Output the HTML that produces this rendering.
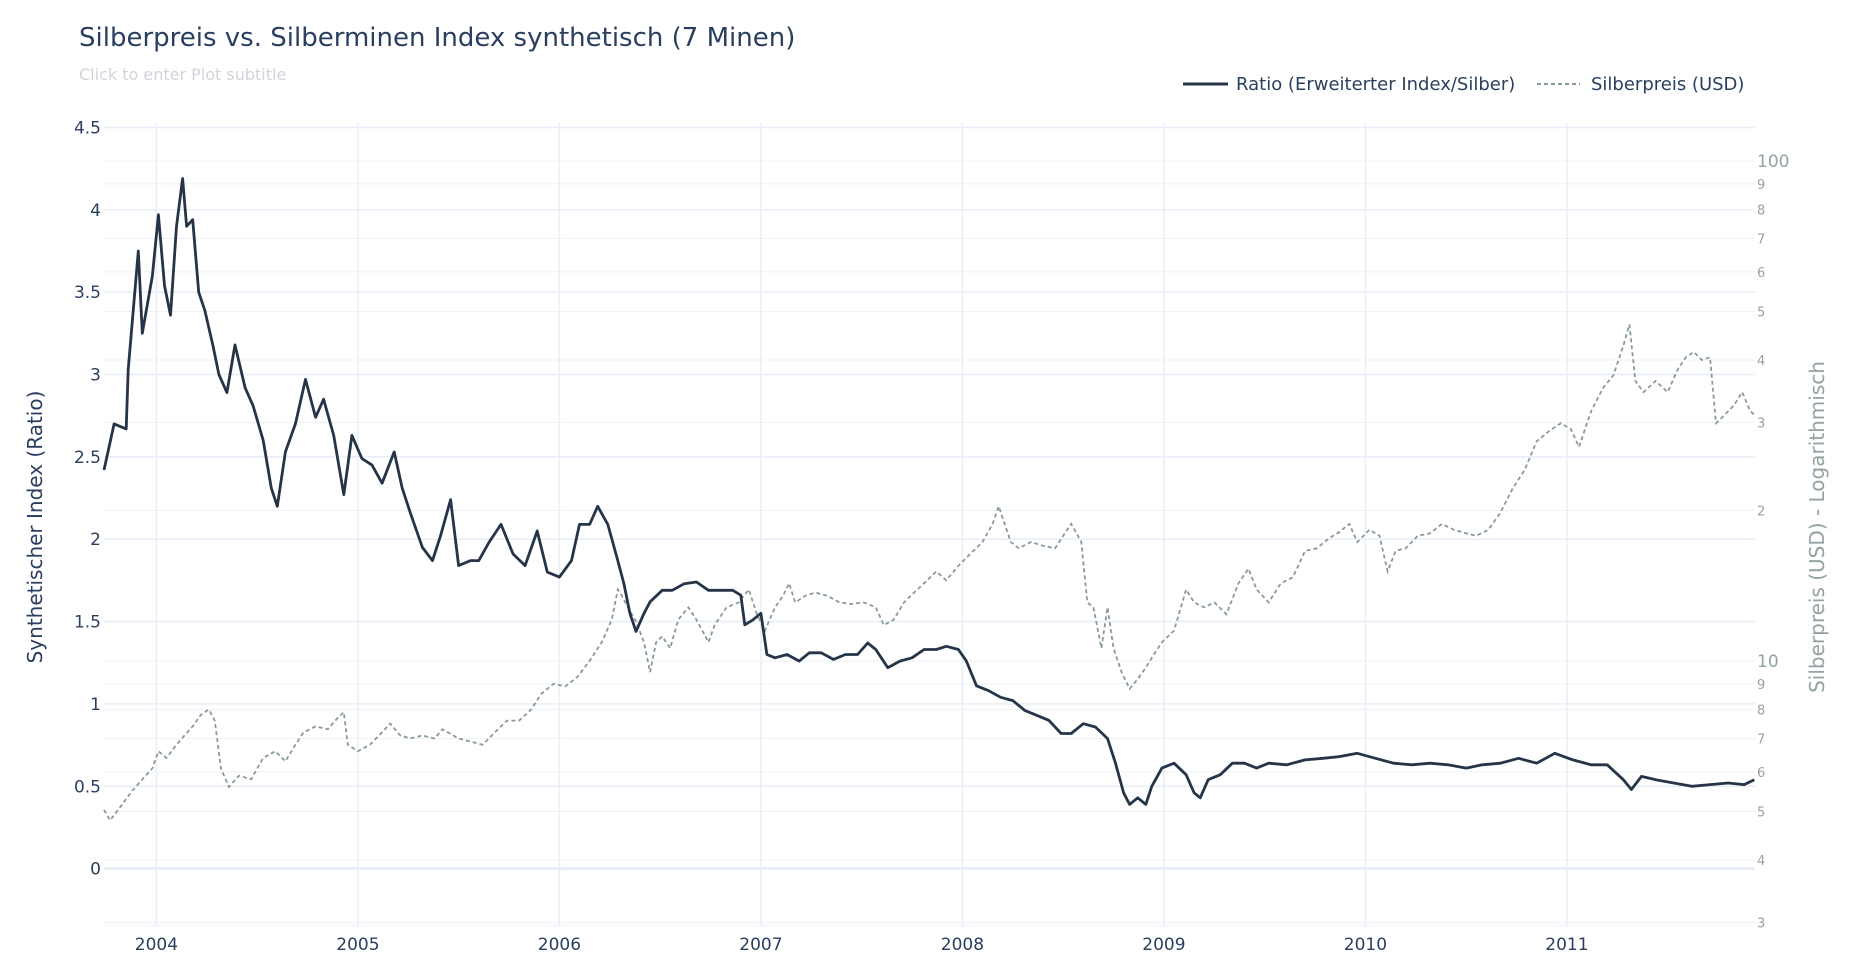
<!DOCTYPE html>
<html><head><meta charset="utf-8"><style>
body{margin:0;background:#fff;font-family:"DejaVu Sans","Liberation Sans",sans-serif;}
svg{display:block;font-family:"DejaVu Sans","Liberation Sans",sans-serif;}
</style></head><body>
<svg id="chart" width="1868" height="969" xmlns="http://www.w3.org/2000/svg">
<text x="79" y="46" font-size="26" fill="#2a3f5f">Silberpreis vs. Silberminen Index synthetisch (7 Minen)</text>
<text x="79" y="80" font-size="16" fill="#d0d4da">Click to enter Plot subtitle</text>
<g id="grid"></g>
<g id="axes"></g>
<g id="series"></g>
<g>
<g><line x1="1183" y1="84" x2="1228" y2="84" stroke="#253447" stroke-width="3"/><text x="1236" y="90" font-size="18" fill="#2a3f5f">Ratio (Erweiterter Index/Silber)</text></g>
<g><line x1="1537" y1="84" x2="1580" y2="84" stroke="#8a9a9b" stroke-width="2" stroke-dasharray="4,3"/><text x="1591" y="90" font-size="18" fill="#2a3f5f">Silberpreis (USD)</text></g>
</g>
<text transform="translate(42,527) rotate(-90)" text-anchor="middle" font-size="20" fill="#2a3f5f">Synthetischer Index (Ratio)</text>
<text transform="translate(1824,527) rotate(-90)" text-anchor="middle" font-size="20" fill="#95a2a3">Silberpreis (USD) - Logarithmisch</text>
</svg>
<script>
const yearTicks=[2004,2005,2006,2007,2008,2009,2010,2011];
const leftTicks=[0,0.5,1,1.5,2,2.5,3,3.5,4,4.5];
const rightTicks=[3,4,5,6,7,8,9,10,20,30,40,50,60,70,80,90,100];
const rightLabels=["3","4","5","6","7","8","9","10","2","3","4","5","6","7","8","9","100"];
const ratioDates=[2003.74,2003.79,2003.85,2003.86,2003.91,2003.93,2003.98,2004.01,2004.04,2004.07,2004.10,2004.13,2004.15,2004.18,2004.21,2004.24,2004.28,2004.31,2004.35,2004.39,2004.44,2004.48,2004.53,2004.57,2004.60,2004.64,2004.69,2004.74,2004.79,2004.83,2004.88,2004.93,2004.97,2005.02,2005.07,2005.12,2005.18,2005.22,2005.26,2005.32,2005.37,2005.41,2005.46,2005.50,2005.56,2005.60,2005.65,2005.71,2005.77,2005.83,2005.89,2005.94,2006.00,2006.06,2006.10,2006.15,2006.19,2006.24,2006.29,2006.32,2006.35,2006.38,2006.42,2006.45,2006.51,2006.56,2006.62,2006.68,2006.74,2006.80,2006.86,2006.90,2006.92,2006.96,2007.00,2007.03,2007.07,2007.13,2007.19,2007.24,2007.30,2007.36,2007.42,2007.48,2007.53,2007.57,2007.63,2007.69,2007.75,2007.81,2007.87,2007.92,2007.98,2008.02,2008.07,2008.13,2008.19,2008.25,2008.31,2008.37,2008.43,2008.49,2008.54,2008.60,2008.66,2008.72,2008.76,2008.80,2008.83,2008.87,2008.91,2008.94,2008.99,2009.05,2009.11,2009.15,2009.18,2009.22,2009.28,2009.34,2009.40,2009.46,2009.52,2009.61,2009.70,2009.79,2009.87,2009.96,2010.05,2010.14,2010.23,2010.32,2010.41,2010.50,2010.58,2010.67,2010.76,2010.85,2010.94,2011.03,2011.12,2011.20,2011.28,2011.32,2011.37,2011.44,2011.53,2011.62,2011.71,2011.80,2011.88,2011.93];
const ratioValues=[2.42,2.7,2.67,3.03,3.75,3.25,3.6,3.97,3.54,3.36,3.9,4.19,3.9,3.94,3.5,3.39,3.18,3.0,2.89,3.18,2.92,2.81,2.6,2.31,2.2,2.53,2.7,2.97,2.74,2.85,2.63,2.27,2.63,2.49,2.45,2.34,2.53,2.31,2.16,1.95,1.87,2.02,2.24,1.84,1.87,1.87,1.98,2.09,1.91,1.84,2.05,1.8,1.77,1.87,2.09,2.09,2.2,2.09,1.87,1.73,1.55,1.44,1.55,1.62,1.69,1.69,1.73,1.74,1.69,1.69,1.69,1.66,1.48,1.51,1.55,1.3,1.28,1.3,1.26,1.31,1.31,1.27,1.3,1.3,1.37,1.33,1.22,1.26,1.28,1.33,1.33,1.35,1.33,1.26,1.11,1.08,1.04,1.02,0.96,0.93,0.9,0.82,0.82,0.88,0.86,0.79,0.64,0.46,0.39,0.43,0.39,0.5,0.61,0.64,0.57,0.46,0.43,0.54,0.57,0.64,0.64,0.61,0.64,0.63,0.66,0.67,0.68,0.7,0.67,0.64,0.63,0.64,0.63,0.61,0.63,0.64,0.67,0.64,0.7,0.66,0.63,0.63,0.54,0.48,0.56,0.54,0.52,0.5,0.51,0.52,0.51,0.54];
const silverDates=[2003.74,2003.77,2003.82,2003.88,2003.93,2003.98,2004.01,2004.05,2004.10,2004.14,2004.18,2004.22,2004.26,2004.29,2004.32,2004.36,2004.41,2004.47,2004.53,2004.59,2004.64,2004.69,2004.73,2004.79,2004.85,2004.90,2004.93,2004.95,2005.00,2005.06,2005.12,2005.16,2005.21,2005.26,2005.32,2005.38,2005.42,2005.50,2005.56,2005.62,2005.68,2005.74,2005.80,2005.86,2005.91,2005.97,2006.03,2006.09,2006.15,2006.21,2006.26,2006.29,2006.31,2006.34,2006.38,2006.42,2006.45,2006.48,2006.51,2006.55,2006.59,2006.64,2006.68,2006.74,2006.77,2006.83,2006.89,2006.94,2006.98,2007.02,2007.07,2007.11,2007.14,2007.17,2007.22,2007.27,2007.33,2007.39,2007.45,2007.51,2007.57,2007.61,2007.66,2007.71,2007.76,2007.81,2007.87,2007.92,2007.98,2008.04,2008.10,2008.15,2008.18,2008.21,2008.24,2008.28,2008.34,2008.40,2008.46,2008.50,2008.54,2008.59,2008.62,2008.65,2008.69,2008.72,2008.75,2008.79,2008.83,2008.87,2008.91,2008.95,2008.99,2009.05,2009.11,2009.15,2009.20,2009.25,2009.31,2009.37,2009.42,2009.46,2009.52,2009.58,2009.64,2009.70,2009.76,2009.82,2009.87,2009.92,2009.96,2010.02,2010.07,2010.11,2010.15,2010.20,2010.26,2010.32,2010.38,2010.44,2010.50,2010.55,2010.61,2010.67,2010.73,2010.79,2010.85,2010.91,2010.97,2011.02,2011.06,2011.12,2011.18,2011.23,2011.28,2011.31,2011.34,2011.38,2011.44,2011.50,2011.55,2011.59,2011.63,2011.67,2011.71,2011.74,2011.77,2011.83,2011.87,2011.91,2011.93];
const silverValues=[5.04,4.8,5.1,5.5,5.8,6.1,6.6,6.4,6.8,7.1,7.4,7.8,8.0,7.6,6.1,5.6,5.9,5.8,6.4,6.6,6.3,6.8,7.2,7.4,7.3,7.7,7.9,6.8,6.6,6.8,7.2,7.5,7.1,7.0,7.1,7.0,7.3,7.0,6.9,6.8,7.2,7.6,7.6,8.0,8.6,9.0,8.9,9.3,10.0,10.9,12.1,13.9,13.5,12.8,12.0,10.9,9.5,10.9,11.2,10.6,12.1,12.8,12.1,10.9,11.8,12.8,13.1,13.9,12.4,11.5,12.8,13.5,14.3,13.1,13.5,13.7,13.5,13.1,13.0,13.1,12.8,11.8,12.1,13.1,13.7,14.3,15.1,14.5,15.5,16.4,17.3,18.8,20.4,18.8,17.3,16.8,17.3,17.0,16.8,17.8,18.8,17.3,13.1,12.8,10.6,12.8,10.6,9.5,8.8,9.2,9.7,10.3,10.9,11.5,13.9,13.1,12.8,13.1,12.4,14.3,15.3,13.9,13.1,14.3,14.7,16.6,16.8,17.6,18.1,18.8,17.3,18.3,17.8,15.1,16.6,16.8,17.8,18.0,18.8,18.3,18.0,17.8,18.3,19.8,22.1,24.1,27.5,28.8,29.9,29.1,26.8,31.6,35.2,37.2,42.7,47.1,36.3,34.5,36.3,34.5,38.3,40.5,41.5,40.0,40.5,29.9,30.7,32.5,34.5,31.6,31.1];

const NS='http://www.w3.org/2000/svg';
const PL=104,PR=1755,PT=127,PB=926;
function xS(t){return 156.4+(t-2004)*201.5;}
function yL(v){return 868.6-v*164.7;}
function yR(v){return 661-(Math.log10(v)-1)*500;}
function mk(tag,attrs,parent){const e=document.createElementNS(NS,tag);for(const k in attrs)e.setAttribute(k,attrs[k]);parent.appendChild(e);return e;}
const grid=document.getElementById('grid'),axes=document.getElementById('axes'),series=document.getElementById('series');
rightTicks.forEach((v,i)=>{
  const y=yR(v);
  const l=mk('line',{x1:PL,x2:PR,y1:y,y2:y,stroke:'#eef2f8','stroke-width':1},grid);
  
  
  const big=(v===10||v===100);
  const t=mk('text',{x:PR+2,y:y+(big?6:5),'font-size':big?17:13,fill:'#95a2a3'},axes);
  t.textContent=rightLabels[i];
  
  
});
leftTicks.forEach(v=>{
  const y=yL(v);
  const l=mk('line',{x1:PL,x2:PR,y1:y,y2:y,stroke:'#e8eef7','stroke-width':v===0?3:1.5},grid);
  
  
  const t=mk('text',{x:PL-3,y:y+6,'font-size':17,fill:'#2a3f5f','text-anchor':'end'},axes);
  t.textContent=String(v);
  
  
});
yearTicks.forEach(yr=>{
  const x=xS(yr);
  const l=mk('line',{x1:x,x2:x,y1:PT-4,y2:PB,stroke:'#e8eef7','stroke-width':1.5},grid);
  
  
  const t=mk('text',{x:x,y:950,'font-size':17,fill:'#2a3f5f','text-anchor':'middle'},axes);
  t.textContent=String(yr);
  
  
});
const bl=mk('line',{x1:PL,x2:PR,y1:PB,y2:PB,stroke:'#eef2f8','stroke-width':1},grid);


let ds='';silverDates.forEach((d,i)=>{ds+=(i?'L':'M')+xS(d).toFixed(1)+','+yR(silverValues[i]).toFixed(1);});
const sp=mk('path',{d:ds,fill:'none',stroke:'#8a9a9b','stroke-width':1.8,'stroke-dasharray':'4,3'},series);


let dr='';ratioDates.forEach((d,i)=>{dr+=(i?'L':'M')+xS(d).toFixed(1)+','+yL(ratioValues[i]).toFixed(1);});
const rp=mk('path',{d:dr,fill:'none',stroke:'#253447','stroke-width':2.8,'stroke-linejoin':'round'},series);


</script>
</body></html>
